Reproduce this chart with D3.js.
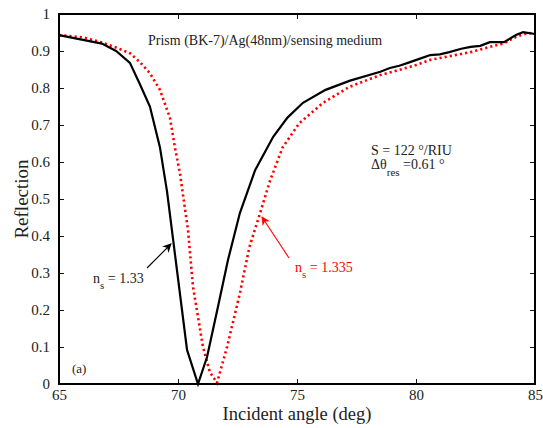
<!DOCTYPE html>
<html>
<head>
<meta charset="utf-8">
<script src="https://cdn.jsdelivr.net/npm/d3@7"></script>
<style>
  body { margin: 0; background: #fff; }
</style>
</head>
<body>
<script>
//data
var angle133 = [65, 66.8, 67.4, 67.98, 68.4, 68.82, 69.24, 69.54, 70.38, 70.84, 71.22, 71.7, 72.1, 72.6, 73.24, 74.0, 74.6, 75.25, 76.2, 77.23, 78.5, 78.9, 79.3, 79.75, 80.2, 80.6, 81.0, 81.4, 81.9, 82.3, 82.7, 83.1, 83.7, 84.2, 84.5, 85];
var refl133  = [0.943, 0.92, 0.9, 0.868, 0.81, 0.75, 0.64, 0.52, 0.092, 0.0, 0.073, 0.215, 0.335, 0.462, 0.578, 0.668, 0.72, 0.76, 0.795, 0.82, 0.844, 0.854, 0.86, 0.87, 0.88, 0.889, 0.891, 0.897, 0.906, 0.911, 0.914, 0.924, 0.924, 0.943, 0.951, 0.946];

var angle1335 = [65, 66.0, 66.7, 67.3, 67.98, 68.4, 68.82, 69.24, 69.66, 69.87, 70.08, 70.42, 70.63, 71.05, 71.34, 71.64, 72.06, 72.6, 73.0, 73.45, 73.87, 74.4, 75.1, 76.1, 77.2, 78.5, 79.3, 80.0, 80.6, 81.4, 82.3, 83.1, 83.7, 84.2, 84.7, 85];
var refl1335  = [0.943, 0.937, 0.925, 0.912, 0.894, 0.87, 0.84, 0.795, 0.72, 0.64, 0.57, 0.416, 0.263, 0.1, 0.032, 0.003, 0.1, 0.245, 0.37, 0.462, 0.55, 0.64, 0.705, 0.76, 0.803, 0.835, 0.849, 0.862, 0.876, 0.886, 0.897, 0.911, 0.921, 0.938, 0.949, 0.946];

var xTicks = [65, 70, 75, 80, 85];
var yTicks = [0, 0.1, 0.2, 0.3, 0.4, 0.5, 0.6, 0.7, 0.8, 0.9, 1];

window.onload = function(){

    var w = 543, h = 428;
    var left = 59, right = 535, top = 14, bottom = 384;
    var serif = "'Liberation Serif', 'Times New Roman', Times, 'DejaVu Serif', serif";

    var svg = d3.select("body").append("svg")
        .attr("width", w)
        .attr("height", h)
        .attr("font-family", serif);

    var x = d3.scaleLinear().domain([65, 85]).range([left, right]);
    var y = d3.scaleLinear().domain([0, 1]).range([bottom, top]);

    var tickFmt = function(d){ return d === 0 || d === 1 ? String(d) : d3.format(".1f")(d); };

    //axes with inward ticks, box on all sides
    svg.append("g")
        .attr("transform", "translate(0," + bottom + ")")
        .call(d3.axisBottom(x).tickValues(xTicks).tickSize(-5).tickPadding(5).tickFormat(d3.format("d")))
        .call(function(g){ g.select(".domain").remove(); });
    svg.append("g")
        .attr("transform", "translate(0," + top + ")")
        .call(d3.axisTop(x).tickValues(xTicks).tickSize(-5).tickFormat(""))
        .call(function(g){ g.select(".domain").remove(); });
    svg.append("g")
        .attr("transform", "translate(" + left + ",0)")
        .call(d3.axisLeft(y).tickValues(yTicks).tickSize(-5).tickPadding(9).tickFormat(tickFmt))
        .call(function(g){ g.select(".domain").remove(); });
    svg.append("g")
        .attr("transform", "translate(" + right + ",0)")
        .call(d3.axisRight(y).tickValues(yTicks).tickSize(-5).tickFormat(""))
        .call(function(g){ g.select(".domain").remove(); });

    svg.selectAll("g").attr("font-family", serif);
    svg.selectAll(".tick line").attr("stroke", "#111").attr("stroke-width", 1);
    svg.selectAll(".tick text")
        .style("font-family", serif)
        .style("font-size", "15px")
        .attr("fill", "#222");

    //line marks
    var line = d3.line().x(function(d){ return x(d[0]); }).y(function(d){ return y(d[1]); });

    svg.append("path")
        .datum(d3.zip(angle1335, refl1335))
        .attr("d", line)
        .attr("fill", "none")
        .attr("stroke", "#ff0000")
        .attr("stroke-width", 2.6)
        .attr("stroke-dasharray", "2.2,3");

    svg.append("path")
        .datum(d3.zip(angle133, refl133))
        .attr("d", line)
        .attr("fill", "none")
        .attr("stroke", "#000")
        .attr("stroke-width", 2.2);

    //frame
    svg.append("rect")
        .attr("x", left).attr("y", top)
        .attr("width", right - left).attr("height", bottom - top)
        .attr("fill", "none").attr("stroke", "#000").attr("stroke-width", 2);

    function label(xp, yp, size, color){
        return svg.append("text")
            .attr("x", xp).attr("y", yp)
            .style("font-family", serif)
            .style("font-size", size + "px")
            .style("fill", color || "#222");
    }

    //axis titles
    label((left + right) / 2, 420, 18.5).attr("text-anchor", "middle").text("Incident angle (deg)");
    svg.append("text")
        .attr("transform", "translate(28," + ((top + bottom) / 2) + ") rotate(-90)")
        .attr("text-anchor", "middle")
        .style("font-family", serif)
        .style("font-size", "19px")
        .style("fill", "#222")
        .text("Reflection");

    //annotations
    label(148, 45, 14).text("Prism (BK-7)/Ag(48nm)/sensing medium");
    label(371, 155, 14).text("S = 122 \u00b0/RIU");
    var dt = label(371, 169, 14);
    dt.append("tspan").text("\u0394\u03b8");
    dt.append("tspan").attr("dy", 7).style("font-size", "11px").text("res");
    dt.append("tspan").attr("dy", -7).text(" =0.61 \u00b0");

    var n1 = label(93, 283, 14);
    n1.append("tspan").text("n");
    n1.append("tspan").attr("dy", 6).style("font-size", "11px").text("s");
    n1.append("tspan").attr("dy", -6).text(" = 1.33");

    var n2 = label(295, 272, 14, "#ff0000");
    n2.append("tspan").text("n");
    n2.append("tspan").attr("dy", 6).style("font-size", "11px").text("s");
    n2.append("tspan").attr("dy", -6).text(" = 1.335");

    label(72, 373, 13).text("(a)");

    //arrows
    var defs = svg.append("defs");
    [["arrBlack", "#000"], ["arrRed", "#ff0000"]].forEach(function(a){
        defs.append("marker")
            .attr("id", a[0])
            .attr("viewBox", "0 0 10 10")
            .attr("refX", 9).attr("refY", 5)
            .attr("markerWidth", 9).attr("markerHeight", 9)
            .attr("markerUnits", "userSpaceOnUse")
            .attr("orient", "auto")
            .append("path")
            .attr("d", "M0,0 L10,5 L0,10 L3,5 Z")
            .attr("fill", a[1]);
    });
    svg.append("line")
        .attr("x1", 147).attr("y1", 268).attr("x2", 171).attr("y2", 244)
        .attr("stroke", "#000").attr("stroke-width", 1.1)
        .attr("marker-end", "url(#arrBlack)");
    svg.append("line")
        .attr("x1", 289).attr("y1", 258).attr("x2", 262).attr("y2", 217)
        .attr("stroke", "#ff0000").attr("stroke-width", 1.1)
        .attr("marker-end", "url(#arrRed)");
};
</script>
</body>
</html>
